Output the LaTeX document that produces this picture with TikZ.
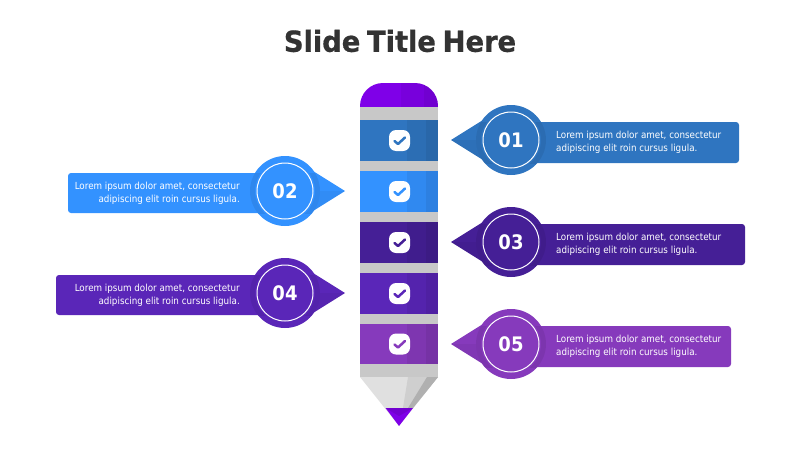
\documentclass[tikz,border=0pt]{standalone}
\usepackage{fontspec}
\setmainfont[FakeStretch=0.9]{DejaVu Sans}
\newfontfamily\titlefont[FakeStretch=0.95,FakeBold=0.6,WordSpace=0.7,LetterSpace=-0.5]{DejaVu Sans Bold}
\usetikzlibrary{calc}
\definecolor{cA}{HTML}{2F75C0}
\definecolor{cB}{HTML}{3392FF}
\definecolor{cC}{HTML}{451F96}
\definecolor{cD}{HTML}{5A26B8}
\definecolor{cE}{HTML}{863ABC}
\definecolor{capc}{HTML}{7F00E8}
\definecolor{band}{HTML}{C8C8C8}
\tikzset{
  x=1pt,y=-1pt,
  bodytext/.style={text=white,font=\fontsize{9.74}{13}\selectfont,inner sep=0pt},
  numtext/.style={text=white,font=\fontsize{20}{24}\selectfont\bfseries,inner sep=0pt},
  ring/.style={draw=white,line width=1pt,circle,minimum size=56pt,inner sep=0pt},
}
\newcommand{\pband}[4]{%
  \fill[#3] (360,#1) rectangle (438,#2);
  \fill[black,opacity=.06] (407,#1) rectangle (438,#2);
  \fill[black,opacity=.06] (426,#1) rectangle (438,#2);
  \pgfmathsetmacro{\cy}{(#1+#2)/2}
  \node[fill=white,rounded corners=7pt,minimum size=21pt,inner sep=0pt] (#4) at (399.5,\cy) {};
  \draw[#3,line width=2.5pt,line cap=round,line join=round] ($(#4)+(-5,0.5)$) -- ($(#4)+(-1.5,3.5)$) -- ($(#4)+(5.5,-3)$);
}
\newcommand{\rcall}[4]{%
  \fill[#3,rounded corners=3pt] (530,#1-18) rectangle (#2,#1+23);
  \fill[#3] (451,#1) -- (483,#1-20) -- (483,#1+20) -- cycle;
  \fill[black,opacity=.04] (451,#1) -- (483,#1) -- (483,#1+20) -- cycle;
  \fill[#3] (511,#1) circle[radius=35];
  \begin{scope}
    \clip (440,#1-18) rectangle (560,#1+23);
    \fill[black,opacity=.07] (511,#1) circle[radius=35];
  \end{scope}
  \fill[#3] (511,#1) circle[radius=30];
  \node[ring] (ring#4) at (511,#1) {};
  \node[numtext] (num#4) at (511,#1) {#4};
  \node[bodytext,anchor=west,align=left] (txt#4) at (556,#1+2) {Lorem ipsum dolor amet, consectetur\\adipiscing elit roin cursus ligula.};
}
\newcommand{\lcall}[4]{%
  \fill[#3,rounded corners=3pt] (#2,#1-18) rectangle (270,#1+22);
  \fill[#3] (345,#1) -- (313,#1-20) -- (313,#1+20) -- cycle;
  \fill[black,opacity=.04] (345,#1) -- (313,#1) -- (313,#1+20) -- cycle;
  \fill[#3] (285,#1) circle[radius=35];
  \begin{scope}
    \clip (230,#1-18) rectangle (350,#1+22);
    \fill[black,opacity=.07] (285,#1) circle[radius=35];
  \end{scope}
  \fill[#3] (285,#1) circle[radius=30];
  \node[ring] (ring#4) at (285,#1) {};
  \node[numtext] (num#4) at (285,#1) {#4};
  \node[bodytext,anchor=east,align=right] (txt#4) at (240,#1+2) {Lorem ipsum dolor amet, consectetur\\adipiscing elit roin cursus ligula.};
}
\begin{document}
\begin{tikzpicture}
\useasboundingbox (0,0) rectangle (800,450);
\node[text=black!80,font=\fontsize{29}{36}\titlefont,inner sep=0pt] (title) at (400,41) {Slide Title Here};
\fill[band] (360,107) rectangle (438,377);
\begin{scope}
  \clip (360,83) rectangle (438,107);
  \clip[rounded corners=23pt] (360,130) -- (360,83) -- (438,83) -- (438,130) -- cycle;
  \fill[capc] (360,83) rectangle (438,107);
  \fill[black,opacity=.05] (401,83) rectangle (438,107);
  \fill[black,opacity=.05] (424,83) rectangle (438,107);
\end{scope}
\pband{120}{161}{cA}{checkA}
\pband{171}{212}{cB}{checkB}
\pband{222}{263}{cC}{checkC}
\pband{273}{314}{cD}{checkD}
\pband{324}{364}{cE}{checkE}
% tip
\fill[black!12] (360,377) -- (438,377) -- (399,426) -- cycle;
\fill[black!19] (408,377) -- (438,377) -- (413,408) -- (403,408) -- cycle;
\fill[black!31] (427,377) -- (438,377) -- (413,408) -- (408,408) -- cycle;
\fill[capc] (385.5,408) -- (413,408) -- (399,426) -- cycle;
\fill[black,opacity=.10] (385.5,408) -- (413,408) -- (399,416) -- cycle;
\rcall{140}{739}{cA}{01}
\lcall{191}{68}{cB}{02}
\rcall{242}{745}{cC}{03}
\lcall{293}{56}{cD}{04}
\rcall{344}{731}{cE}{05}
\end{tikzpicture}
\end{document}
